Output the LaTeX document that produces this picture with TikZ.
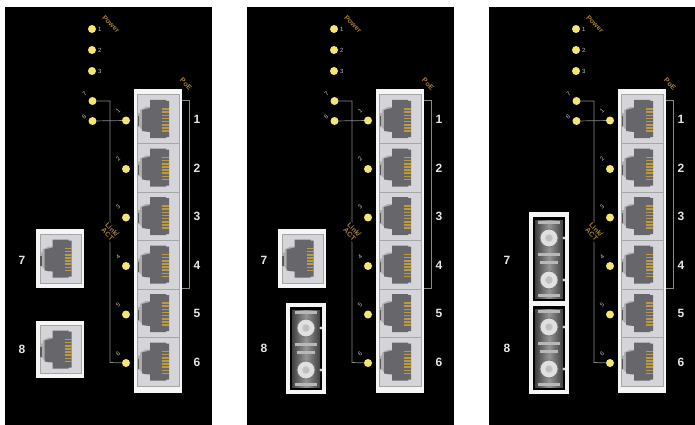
\documentclass[tikz,border=0pt]{standalone}
\usepackage{fontspec}
\setmainfont{Liberation Sans}
\definecolor{goldtxt}{HTML}{A5813C}
\definecolor{contact}{HTML}{B99A45}
\definecolor{ledy}{HTML}{F6E66E}
\definecolor{cellg}{HTML}{D4D4D9}
\definecolor{jackg}{HTML}{66666B}
\definecolor{wirec}{HTML}{8A8A8A}
\tikzset{
  panel/.style={fill=black,draw=none},
  frame/.style={fill=white!96!black,draw=none,inner sep=0pt},
  cell/.style={fill=cellg,draw=black!35,line width=.5pt,inner sep=0pt,minimum width=42pt,minimum height=48.5pt},
  led/.style={circle,fill=ledy,draw=none,inner sep=0pt,minimum size=8pt},
  wire/.style={draw=wirec,line width=.7pt},
  bignum/.style={text=white!90!black,font=\bfseries\fontsize{12}{12}\selectfont,inner sep=0pt},
  tiny/.style={text=white!75!black,font=\fontsize{6}{6}\selectfont,inner sep=0pt},
  tinyrot/.style={tiny,rotate=45},
  goldlbl/.style={text=goldtxt,font=\bfseries\fontsize{7}{7}\selectfont,inner sep=0pt,rotate=-45,align=center},
  fibre/.style={fill=black,draw=none,inner sep=0pt,minimum width=32pt},
  port/.style={circle,fill=white!88!black,draw=black!55,line width=.8pt,inner sep=0pt,minimum size=18pt},
  porthole/.style={circle,fill=black!25,draw=white!80!black,line width=.6pt,inner sep=0pt,minimum size=7pt},
  bar/.style={fill=black!28,draw=none},
}
\newcommand{\jackart}[1]{%
  \begin{scope}[shift={(#1.center)}]
    \fill[black!32] (-20,-6) -- (-18,-6) -- (-18,-9) -- (-12,-12) -- (-8,-12) -- (-8,12) -- (-12,13) -- (-18,9) -- (-18,8) -- (-20,8) -- cycle;
    \fill[black!65] (-20.5,-3) rectangle (-19,7);
    \fill[jackg] (-8,-19) -- (8,-19) -- (8,-18) -- (11,-18) -- (11,18) -- (8,18) -- (8,19) -- (-8,19) -- (-8,13) -- (-16,12) -- (-16,-9) -- (-8,-11) -- cycle;
    \foreach \k in {0,...,7}
      \draw[contact,line width=1.6pt] (4,-10+\k*3.15) -- (11,-10+\k*3.15);
  \end{scope}}
\newcommand{\fibreunit}[6]{%
  \node[fibre,minimum height=#4-#3] (#1) at (#2,{(#3+#4)/2}) {};
  \fill[left color=black!75,right color=black!75,middle color=black!42] (#2-14,#3+3) rectangle (#2+14,#4-3);
  \fill[bar] (#2-11,#3+4) rectangle (#2+11,#3+7);
  \fill[bar] (#2-11,{(#3+#4)/2-6}) rectangle (#2+11,{(#3+#4)/2-3});
  \fill[bar] (#2-9,{(#3+#4)/2+2}) rectangle (#2+9,{(#3+#4)/2+5});
  \fill[bar] (#2-11,#4-7) rectangle (#2+11,#4-4);
  \node[port] (#1-a) at (#2,#5) {};
  \node[porthole] at (#1-a) {};
  \node[port] (#1-b) at (#2,#6) {};
  \node[porthole] at (#1-b) {};
  \fill[white!85!black] (#2+15,#5) circle (1.6);
  \fill[white!85!black] (#2+15,#6) circle (1.6);}
\newcommand{\panelbase}[1]{%
  \fill[panel] (5,7) rectangle (212,425);
  \foreach \i/\t in {1/29,2/50,3/71}{
    \node[led] (#1-pw\i) at (92,\t) {};
    \node[tiny,anchor=west] (#1-pwl\i) at (98,\t) {\i};
  }
  \node[goldlbl] (#1-power) at (111,24) {Power};
  \node[frame,minimum width=48.5pt,minimum height=304pt] (#1-stack) at (158,241) {};
  \node[goldlbl] (#1-poe) at (186,84) {PoE};
  \foreach \i/\t/\lt in {1/119/111,2/167.5/159,3/216/207,4/264.5/257,5/313/305,6/361.5/354}{
    \node[cell] (#1-c\i) at (158,\t) {};
    \jackart{#1-c\i}
    \node[led] (#1-l\i) at (126,{\t+1.5}) {};
    \node[tinyrot] (#1-n\i) at (118,\lt) {\i};
    \node[bignum] (#1-b\i) at (197,{\t+0.5}) {\i};
  }
  \node[led] (#1-l7) at (92.5,101) {};
  \node[led] (#1-l8) at (92.5,121) {};
  \node[tinyrot] (#1-t7) at (84.5,94) {7};
  \node[tinyrot] (#1-t8) at (84,116.5) {8};
  \coordinate (#1-a) at (110,101);
  \coordinate (#1-d) at (110,362.5);
  \coordinate (#1-pa) at (189,100);
  \coordinate (#1-pb) at (189,288);
  \draw[wire] (#1-l7) -- (#1-a) -- (#1-d) -- (#1-l6);
  \draw[wire] (#1-l8) -- (#1-l1);
  \draw[wire] (#1-stack.east |- #1-pa) -- (#1-pa) -- (#1-pb) -- (#1-stack.east |- #1-pb);
  \node[goldlbl,fill=black,inner sep=1pt] (#1-link) at (110,232) {Link/\\[-0.5pt]ACT};}
\newcommand{\copperport}[4]{%
  \node[frame,minimum width=48.5pt,minimum height=#3pt] (#1-f) at (60,#2) {};
  \node[cell,minimum width=41pt,minimum height=#4pt] (#1) at (60.5,#2) {};
  \jackart{#1}}
\begin{document}
\begin{tikzpicture}[x=1pt,y=-1pt]
\useasboundingbox (0,0) rectangle (695,425);
\fill[white] (0,0) rectangle (695,425);
\begin{scope}
  \panelbase{A}
  \copperport{A-p7}{258.5}{59}{49}
  \copperport{A-p8}{349.5}{57}{48}
  \node[bignum] (A-k7) at (22,260) {7};
  \node[bignum] (A-k8) at (22,349) {8};
\end{scope}
\begin{scope}[xshift=242pt]
  \panelbase{B}
  \copperport{B-p7}{258.5}{59}{49}
  \node[frame,minimum width=40pt,minimum height=91pt] (B-f8) at (64,348.5) {};
  \fibreunit{B-u8}{64}{307}{390}{328}{370}
  \node[bignum] (B-k7) at (22,260) {7};
  \node[bignum] (B-k8) at (22,348) {8};
\end{scope}
\begin{scope}[xshift=484pt]
  \panelbase{C}
  \node[frame,minimum width=40pt,minimum height=182pt] (C-f) at (65,303) {};
  \fibreunit{C-u7}{65}{217}{301}{238}{280}
  \fibreunit{C-u8}{65}{306}{390}{327}{369}
  \node[bignum] (C-k7) at (23,260) {7};
  \node[bignum] (C-k8) at (23,348) {8};
\end{scope}
\end{tikzpicture}
\end{document}
